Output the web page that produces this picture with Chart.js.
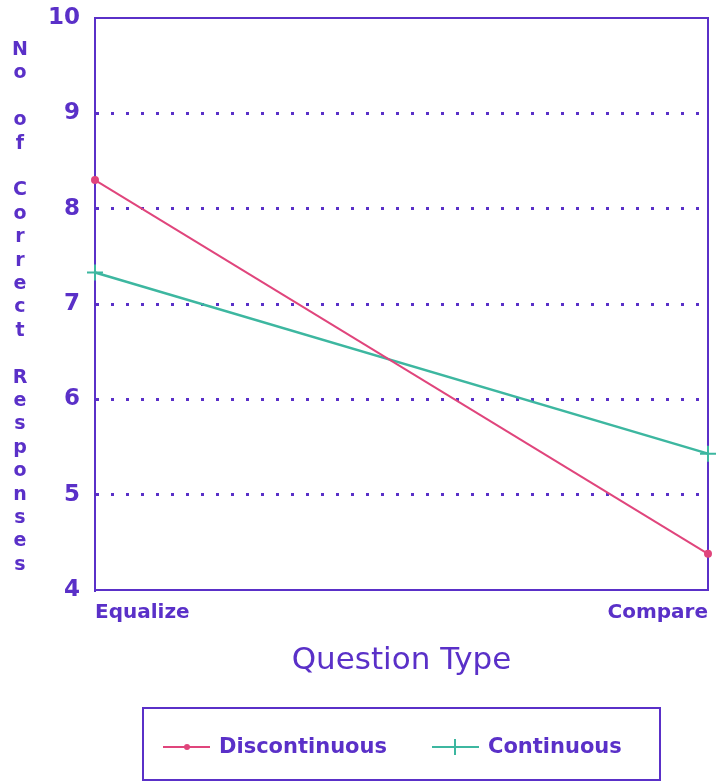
<!DOCTYPE html>
<html>
<head>
<meta charset="utf-8">
<script src="https://cdn.jsdelivr.net/npm/chart.js@4.4.1/dist/chart.umd.min.js"></script>
<style>
  html, body { margin: 0; padding: 0; background: #fff; }
  #wrap { width: 721px; height: 782px; position: relative; }
</style>
</head>
<body>
<div id="wrap"><canvas id="chart"></canvas></div>
<script>
// data
const questionTypes = ['Equalize', 'Compare'];
const discontinuous = [8.3, 4.38];
const continuous = [7.33, 5.43];
const yTicks = [4, 5, 6, 7, 8, 9, 10];
const yTitle = 'No of Correct Responses';
const xTitle = 'Question Type';
const seriesNames = ['Discontinuous', 'Continuous'];

const INK = '#5a30c8';
const RED = '#e0457c';
const TEAL = '#3db7a0';
const FONT = "'DejaVu Sans', sans-serif";

// frame under the lines, stacked y title and boxed legend on top
const extras = {
    id: 'extras',
    beforeDatasetsDraw(chart) {
        const { ctx, chartArea: a } = chart;
        ctx.save();
        ctx.strokeStyle = INK;
        ctx.lineWidth = 2;
        ctx.setLineDash([]);
        ctx.strokeRect(a.left, a.top, a.right - a.left, a.bottom - a.top);
        ctx.restore();
    },
    afterDraw(chart) {
        const { ctx } = chart;
        ctx.save();
        ctx.setLineDash([]);

        // y title, one letter per row
        ctx.fillStyle = INK;
        ctx.font = 'bold 19px ' + FONT;
        ctx.textAlign = 'center';
        ctx.textBaseline = 'middle';
        yTitle.split('').forEach((c, i) => {
            if (c !== ' ') ctx.fillText(c, 20, 50 + i * 23.4);
        });

        // legend box
        ctx.strokeStyle = INK;
        ctx.lineWidth = 2;
        ctx.strokeRect(143, 708, 517, 72);
        const xs = [163, 432];
        ctx.font = 'bold 21px ' + FONT;
        ctx.textAlign = 'left';
        chart.data.datasets.forEach((ds, i) => {
            const x = xs[i], y = 747;
            ctx.strokeStyle = ds.borderColor;
            ctx.lineWidth = 2;
            ctx.beginPath();
            ctx.moveTo(x, y); ctx.lineTo(x + 47, y);
            ctx.stroke();
            if (ds.pointStyle === 'cross') {
                ctx.beginPath();
                ctx.moveTo(x + 23, y - 8); ctx.lineTo(x + 23, y + 8);
                ctx.stroke();
            } else {
                ctx.fillStyle = ds.borderColor;
                ctx.beginPath();
                ctx.arc(x + 24, y, 3, 0, Math.PI * 2);
                ctx.fill();
            }
            ctx.fillStyle = INK;
            ctx.fillText(ds.label, x + 56, y + 1);
        });
        ctx.restore();
    }
};

new Chart(document.getElementById('chart'), {
    type: 'line',
    data: {
        labels: questionTypes,
        datasets: [
            {
                label: seriesNames[0],
                data: discontinuous,
                borderColor: RED,
                backgroundColor: RED,
                borderWidth: 2,
                pointStyle: 'circle',
                pointRadius: 3,
                clip: false
            },
            {
                label: seriesNames[1],
                data: continuous,
                borderColor: TEAL,
                backgroundColor: TEAL,
                borderWidth: 2.5,
                pointStyle: 'cross',
                pointRadius: 8,
                pointBorderWidth: 2,
                clip: false
            }
        ]
    },
    options: {
        responsive: true,
        maintainAspectRatio: false,
        animation: false,
        layout: { padding: { left: 0, right: 13, top: 18, bottom: 102 } },
        plugins: {
            legend: { display: false },
            tooltip: { enabled: false }
        },
        scales: {
            x: {
                offset: false,
                border: { color: INK, width: 2 },
                grid: { display: false, drawTicks: false },
                ticks: {
                    color: INK,
                    align: 'inner',
                    padding: 11,
                    maxRotation: 0,
                    font: { family: FONT, size: 20, weight: 'bold' }
                },
                title: {
                    display: true,
                    text: xTitle,
                    color: INK,
                    padding: { top: 4, bottom: 0 },
                    font: { family: FONT, size: 31, weight: '500' }
                },
                afterFit(s) { s.height = 90; s.paddingLeft = 0; s.paddingRight = 0; }
            },
            y: {
                min: yTicks[0],
                max: yTicks[yTicks.length - 1],
                afterBuildTicks(s) { s.ticks = yTicks.map(v => ({ value: v })); },
                border: { color: INK, width: 2, dash: [3, 12] },
                grid: {
                    drawTicks: false,
                    lineWidth: 3,
                    color: c => (c.tick.value === yTicks[0] || c.tick.value === yTicks[yTicks.length - 1]) ? 'rgba(0,0,0,0)' : INK
                },
                ticks: {
                    color: INK,
                    padding: 15,
                    font: { family: FONT, size: 23, weight: 'bold' }
                },
                afterFit(s) { s.width = 95; s.paddingTop = 0; s.paddingBottom = 0; }
            }
        }
    },
    plugins: [extras]
});
</script>
</body>
</html>
